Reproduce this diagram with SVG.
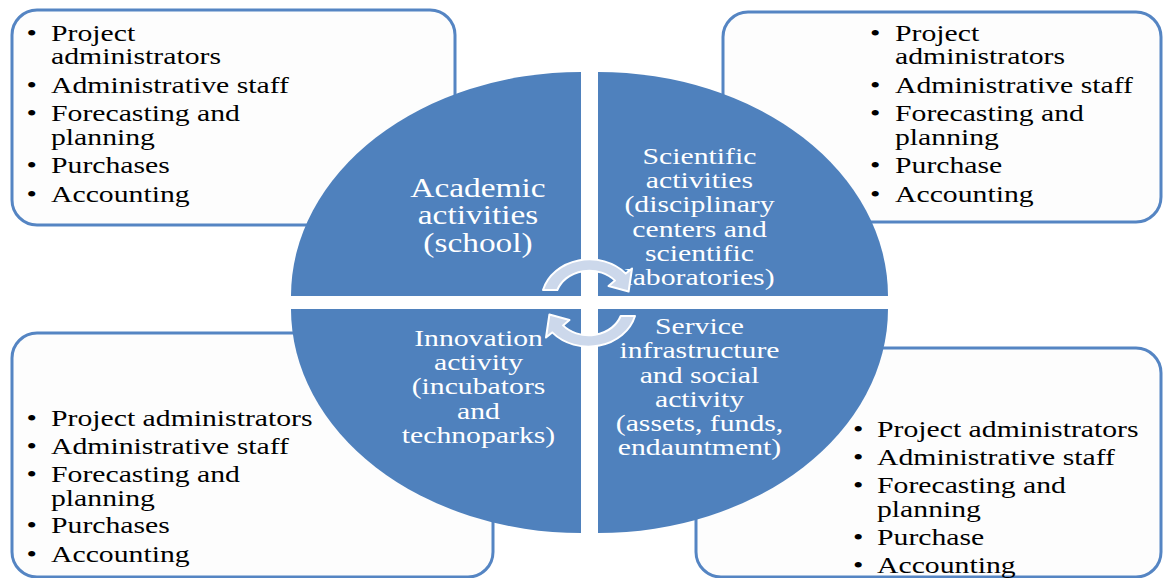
<svg xmlns="http://www.w3.org/2000/svg" width="1163" height="578" viewBox="0 0 1163 578">
<style>
.box{fill:#FDFDFD;stroke:#5585C3;stroke-width:3}
.quad{fill:#4F81BD}
.t{font-family:"Liberation Serif","Times New Roman",serif;font-size:23.5px;fill:#000}
.q{font-family:"Liberation Serif","Times New Roman",serif;font-size:23.5px;fill:#FFFFFF;text-anchor:middle}
.qa{font-size:26.4px}
.arr{fill:#CCD8EB;stroke:#FFFFFF;stroke-width:2;stroke-linejoin:round}
</style>
<defs>
<path id="arrowTop" class="arr" d="M543 290 A48 41 0 0 1 625.8 273.6 L632 268.5 L628.6 291.5 L608.5 286 L615 280.6 A34 29 0 0 0 557.3 290 Z"/>
</defs>
<rect width="1163" height="578" fill="#FFFFFF"/>

<g id="box-top-left">
<rect class="box" x="12" y="10" width="443" height="215" rx="25"/>
<g class="t">
<text transform="matrix(1.265 0 0 1 26.5 0)" y="41">•</text>
<text transform="matrix(1.265 0 0 1 51 0)" y="41">Project</text>
<text transform="matrix(1.265 0 0 1 51 0)" y="64">administrators</text>
<text transform="matrix(1.265 0 0 1 26.5 0)" y="93">•</text>
<text transform="matrix(1.265 0 0 1 51 0)" y="93">Administrative staff</text>
<text transform="matrix(1.265 0 0 1 26.5 0)" y="121">•</text>
<text transform="matrix(1.265 0 0 1 51 0)" y="121">Forecasting and</text>
<text transform="matrix(1.265 0 0 1 51 0)" y="145">planning</text>
<text transform="matrix(1.265 0 0 1 26.5 0)" y="173">•</text>
<text transform="matrix(1.265 0 0 1 51 0)" y="173">Purchases</text>
<text transform="matrix(1.265 0 0 1 26.5 0)" y="202">•</text>
<text transform="matrix(1.265 0 0 1 51 0)" y="202">Accounting</text>
</g>
</g>

<g id="box-top-right">
<rect class="box" x="723" y="12" width="438" height="210" rx="25"/>
<g class="t">
<text transform="matrix(1.265 0 0 1 870 0)" y="41">•</text>
<text transform="matrix(1.265 0 0 1 895 0)" y="41">Project</text>
<text transform="matrix(1.265 0 0 1 895 0)" y="64">administrators</text>
<text transform="matrix(1.265 0 0 1 870 0)" y="93">•</text>
<text transform="matrix(1.265 0 0 1 895 0)" y="93">Administrative staff</text>
<text transform="matrix(1.265 0 0 1 870 0)" y="121">•</text>
<text transform="matrix(1.265 0 0 1 895 0)" y="121">Forecasting and</text>
<text transform="matrix(1.265 0 0 1 895 0)" y="145">planning</text>
<text transform="matrix(1.265 0 0 1 870 0)" y="173">•</text>
<text transform="matrix(1.265 0 0 1 895 0)" y="173">Purchase</text>
<text transform="matrix(1.265 0 0 1 870 0)" y="202">•</text>
<text transform="matrix(1.265 0 0 1 895 0)" y="202">Accounting</text>
</g>
</g>

<g id="box-bottom-left">
<rect class="box" x="12" y="333" width="481" height="244" rx="25"/>
<g class="t">
<text transform="matrix(1.265 0 0 1 26.5 0)" y="426">•</text>
<text transform="matrix(1.265 0 0 1 51 0)" y="426">Project administrators</text>
<text transform="matrix(1.265 0 0 1 26.5 0)" y="454">•</text>
<text transform="matrix(1.265 0 0 1 51 0)" y="454">Administrative staff</text>
<text transform="matrix(1.265 0 0 1 26.5 0)" y="482">•</text>
<text transform="matrix(1.265 0 0 1 51 0)" y="482">Forecasting and</text>
<text transform="matrix(1.265 0 0 1 51 0)" y="506">planning</text>
<text transform="matrix(1.265 0 0 1 26.5 0)" y="533">•</text>
<text transform="matrix(1.265 0 0 1 51 0)" y="533">Purchases</text>
<text transform="matrix(1.265 0 0 1 26.5 0)" y="562">•</text>
<text transform="matrix(1.265 0 0 1 51 0)" y="562">Accounting</text>
</g>
</g>

<g id="box-bottom-right">
<rect class="box" x="696" y="348" width="465" height="229" rx="25"/>
<g class="t">
<text transform="matrix(1.265 0 0 1 853 0)" y="437">•</text>
<text transform="matrix(1.265 0 0 1 877 0)" y="437">Project administrators</text>
<text transform="matrix(1.265 0 0 1 853 0)" y="465">•</text>
<text transform="matrix(1.265 0 0 1 877 0)" y="465">Administrative staff</text>
<text transform="matrix(1.265 0 0 1 853 0)" y="493">•</text>
<text transform="matrix(1.265 0 0 1 877 0)" y="493">Forecasting and</text>
<text transform="matrix(1.265 0 0 1 877 0)" y="517">planning</text>
<text transform="matrix(1.265 0 0 1 853 0)" y="545">•</text>
<text transform="matrix(1.265 0 0 1 877 0)" y="545">Purchase</text>
<text transform="matrix(1.265 0 0 1 853 0)" y="573">•</text>
<text transform="matrix(1.265 0 0 1 877 0)" y="573">Accounting</text>
</g>
</g>

<g id="quad-academic">
<path class="quad" d="M581 296 L291 296 A290 224 0 0 1 581 72 Z"/>
<text class="q qa" transform="matrix(1.265 0 0 1 478 0)" y="197">Academic</text>
<text class="q qa" transform="matrix(1.265 0 0 1 478 0)" y="224">activities</text>
<text class="q qa" transform="matrix(1.265 0 0 1 478 0)" y="252">(school)</text>
</g>

<g id="quad-scientific">
<path class="quad" d="M598 296 L598 72 A290 224 0 0 1 888 296 Z"/>
<text class="q" transform="matrix(1.265 0 0 1 699.5 0)" y="164">Scientific</text>
<text class="q" transform="matrix(1.265 0 0 1 699.5 0)" y="188.3">activities</text>
<text class="q" transform="matrix(1.265 0 0 1 699.5 0)" y="212.5">(disciplinary</text>
<text class="q" transform="matrix(1.265 0 0 1 699.5 0)" y="236.7">centers and</text>
<text class="q" transform="matrix(1.265 0 0 1 699.5 0)" y="261">scientific</text>
<text class="q" transform="matrix(1.265 0 0 1 699.5 0)" y="285">laboratories)</text>
</g>

<g id="quad-innovation">
<path class="quad" d="M581 309 L581 533 A290 224 0 0 1 291 309 Z"/>
<text class="q" transform="matrix(1.265 0 0 1 478.5 0)" y="346">Innovation</text>
<text class="q" transform="matrix(1.265 0 0 1 478.5 0)" y="370.2">activity</text>
<text class="q" transform="matrix(1.265 0 0 1 478.5 0)" y="394.4">(incubators</text>
<text class="q" transform="matrix(1.265 0 0 1 478.5 0)" y="418.6">and</text>
<text class="q" transform="matrix(1.265 0 0 1 478.5 0)" y="442.8">technoparks)</text>
</g>

<g id="quad-service">
<path class="quad" d="M598 309 L888 309 A290 224 0 0 1 598 533 Z"/>
<text class="q" transform="matrix(1.265 0 0 1 699.5 0)" y="334.3">Service</text>
<text class="q" transform="matrix(1.265 0 0 1 699.5 0)" y="358.5">infrastructure</text>
<text class="q" transform="matrix(1.265 0 0 1 699.5 0)" y="382.7">and social</text>
<text class="q" transform="matrix(1.265 0 0 1 699.5 0)" y="406.9">activity</text>
<text class="q" transform="matrix(1.265 0 0 1 699.5 0)" y="431">(assets, funds,</text>
<text class="q" transform="matrix(1.265 0 0 1 699.5 0)" y="455.3">endauntment)</text>
</g>

<g id="connectors">
<use href="#arrowTop"/>
<use href="#arrowTop" transform="rotate(180 589 303)"/>
</g>
</svg>
